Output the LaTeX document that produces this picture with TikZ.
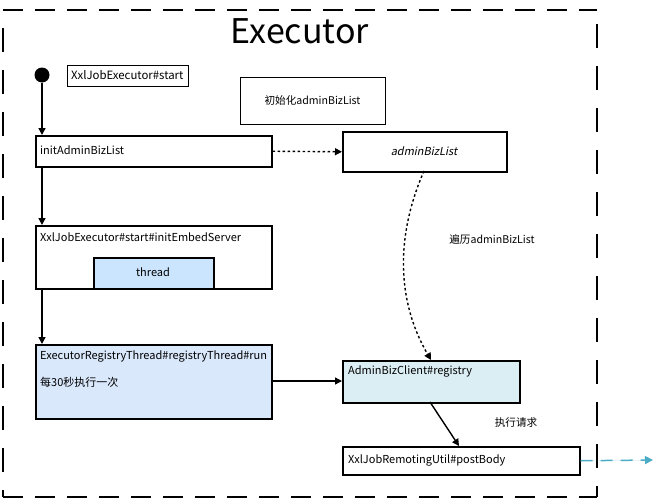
\documentclass[tikz,border=0pt]{standalone}
\usepackage{fontspec}
\setmainfont{Noto Sans CJK SC}
\newfontfamily\slantfont{Noto Sans CJK SC}[FakeSlant=0.2]
\usetikzlibrary{arrows.meta}
\definecolor{threadfill}{HTML}{CCE5FF}
\definecolor{regfill}{HTML}{DAE8FC}
\definecolor{clientfill}{HTML}{DBEEF4}
\definecolor{httpblue}{HTML}{4BACC6}
\begin{document}
\begin{tikzpicture}[x=1pt,y=-1pt,
  box/.style={draw=black,line width=1.5pt,rectangle,anchor=north west,inner sep=0pt},
  txt/.style={font=\fontsize{11}{13}\selectfont,inner sep=0pt,anchor=west},
  small/.style={font=\fontsize{10.6}{12}\selectfont,inner sep=0pt},
  flow/.style={-{Triangle[length=7pt,width=7pt]},line width=1.4pt},
  dots/.style={-{Triangle[length=7pt,width=7pt]},line width=1.4pt,dash pattern=on 2.5pt off 2.5pt}]
\useasboundingbox (0,0) rectangle (655,501);
% frame
\draw[line width=2.2pt,dash pattern=on 20pt off 12pt] (3,10) -- (597,10);
\draw[line width=2.2pt,dash pattern=on 20pt off 12pt] (3,497) -- (597,497);
\draw[line width=2.2pt,dash pattern=on 24pt off 18pt] (3,28) -- (3,497);
\draw[line width=2.2pt,dash pattern=on 24pt off 18pt] (597,24) -- (597,497);
\node[font=\fontsize{34}{40}\selectfont,inner sep=0pt] (title) at (300,31) {Executor};
% start
\node[circle,fill=black,minimum size=15pt,inner sep=0pt] (start) at (42,75) {};
\node[box,line width=1.2pt,minimum width=121pt,minimum height=21pt] (startlbl) at (67,65) {};
\node[font=\fontsize{11.4}{13}\selectfont,inner sep=0pt,anchor=west] at (71,75.5) {XxlJobExecutor\#start};
\node[box,line width=1.2pt,minimum width=145pt,minimum height=47pt] (initnote) at (240,77) {};
\node[small] at (312.5,100.5) {初始化adminBizList};
% init
\node[box,minimum width=236pt,minimum height=31pt] (init) at (35,135) {};
\node[txt] at (40,150.5) {initAdminBizList};
\node[box,minimum width=164pt,minimum height=40pt] (list) at (342,131) {};
\node[font=\fontsize{11}{13}\slantfont,inner sep=0pt] at (424,151) {adminBizList};
% embed server
\node[box,minimum width=236pt,minimum height=63pt] (embed) at (35,225) {};
\node[txt] at (40,237) {XxlJobExecutor\#start\#initEmbedServer};
\node[box,fill=threadfill,minimum width=120pt,minimum height=31pt] (thread) at (93,257) {};
\node[font=\fontsize{11}{13}\selectfont,inner sep=0pt] at (153,272) {thread};
% registry thread
\node[box,fill=regfill,minimum width=236pt,minimum height=74pt] (reg) at (35,344) {};
\node[txt] at (40,356) {ExecutorRegistryThread\#registryThread\#run};
\node[txt] at (40,382) {每30秒执行一次};
% admin biz client
\node[box,fill=clientfill,minimum width=177pt,minimum height=42pt] (client) at (342,360) {};
\node[txt] at (348,371.5) {AdminBizClient\#registry};
% post body
\node[box,minimum width=237pt,minimum height=28pt] (post) at (342,446) {};
\node[txt] at (348,460) {XxlJobRemotingUtil\#postBody};
% labels
\node[small] (lblloop) at (492,239.5) {遍历adminBizList};
\node[small] (lblreq) at (516,422) {执行请求};
\coordinate (outside) at (653,460);
% connectors
\draw[flow] (start.south) -- (start.south |- init.north);
\draw[flow] (42,166) -- (42,225);
\draw[flow] (42,288) -- (42,344);
\draw[dots] (init.east) -- (list.west);
\draw[dots] (424,171) .. controls (396,235) and (396,300) .. (431,360);
\draw[flow] (reg.east |- 0,381) -- (client.west |- 0,381);
\draw[flow] (430,402) -- (459,446);
\draw[-{Triangle[length=8pt,width=8pt]},line width=1.5pt,draw=httpblue,fill=httpblue,dash pattern=on 12pt off 8pt] (post.east) -- (outside);
\end{tikzpicture}
\end{document}
